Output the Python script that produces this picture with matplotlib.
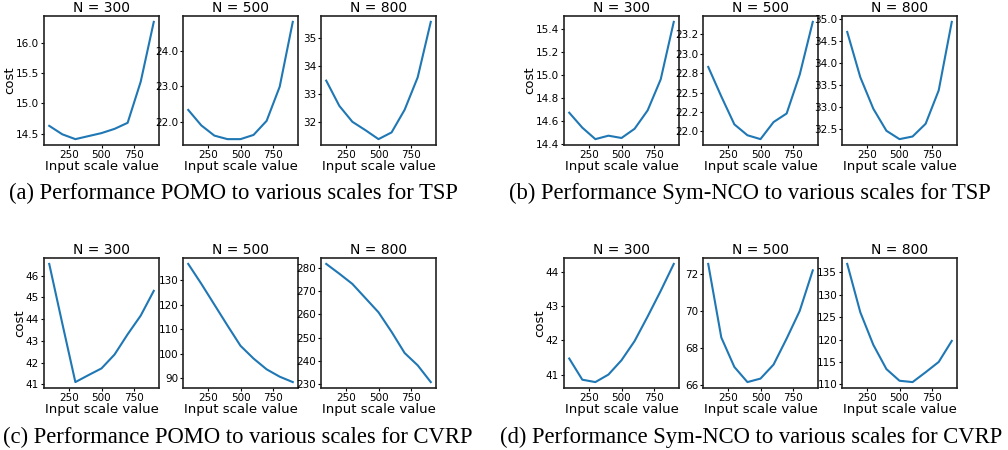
import matplotlib
matplotlib.use("Agg")
import matplotlib.pyplot as plt
from matplotlib.ticker import FormatStrFormatter

# input scale values (x axis, shared by every panel)
scales = [100, 200, 300, 400, 500, 600, 700, 800, 900]
sizes = [300, 500, 800]

# (a) POMO, TSP
pomo_tsp = [
    [14.63, 14.49, 14.41, 14.46, 14.51, 14.58, 14.68, 15.36, 16.35],
    [22.33, 21.89, 21.60, 21.50, 21.50, 21.62, 22.02, 22.99, 24.83],
    [33.47, 32.57, 32.00, 31.70, 31.38, 31.62, 32.43, 33.59, 35.57],
]
# (b) Sym-NCO, TSP
sym_tsp = [
    [14.67, 14.54, 14.44, 14.47, 14.45, 14.53, 14.69, 14.96, 15.46],
    [22.83, 22.45, 22.09, 21.95, 21.90, 22.12, 22.23, 22.73, 23.41],
    [34.71, 33.68, 32.96, 32.46, 32.27, 32.33, 32.62, 33.38, 34.94],
]
# (c) POMO, CVRP
pomo_cvrp = [
    [46.54, 43.80, 41.10, 41.42, 41.73, 42.37, 43.30, 44.16, 45.30],
    [136.6, 128.5, 120.0, 111.5, 103.2, 98.0, 93.6, 90.6, 88.4],
    [281.7, 277.5, 273.1, 267.0, 260.9, 252.5, 243.4, 238.1, 230.9],
]
# (d) Sym-NCO, CVRP
sym_cvrp = [
    [41.47, 40.85, 40.78, 41.00, 41.42, 41.98, 42.70, 43.45, 44.24],
    [72.55, 68.56, 66.96, 66.14, 66.33, 67.09, 68.50, 70.00, 72.20],
    [136.9, 126.1, 118.8, 113.4, 110.8, 110.5, 112.7, 115.0, 119.7],
]

x_ticks = [250, 500, 750]
yticks = {
    "a": [[14.5, 15.0, 15.5, 16.0], [22, 23, 24], [32, 33, 34, 35]],
    "b": [[14.4, 14.6, 14.8, 15.0, 15.2, 15.4],
          [22.0, 22.25, 22.5, 22.75, 23.0, 23.25],
          [32.5, 33.0, 33.5, 34.0, 34.5, 35.0]],
    "c": [[41, 42, 43, 44, 45, 46], [90, 100, 110, 120, 130],
          [230, 240, 250, 260, 270, 280]],
    "d": [[41, 42, 43, 44], [66, 68, 70, 72], [110, 115, 120, 125, 130, 135]],
}
ytick_fmt = {"a": [None, "%.1f", None], "b": [None, "%.1f", None],
             "c": [None, None, None], "d": [None, None, None]}

captions = {
    "a": "(a) Performance POMO to various scales for TSP",
    "b": "(b) Performance Sym-NCO to various scales for TSP",
    "c": "(c) Performance POMO to various scales for CVRP",
    "d": "(d) Performance Sym-NCO to various scales for CVRP",
}
data = {"a": pomo_tsp, "b": sym_tsp, "c": pomo_cvrp, "d": sym_cvrp}

W, H = 1008, 450
fig = plt.figure(figsize=(W / 100, H / 100), dpi=100)

# pixel layout of each group: left edges of the 3 axes, top/bottom of row, caption pos
groups = {
    "a": ([44, 183, 321], 16, 145, 233, 193),
    "b": ([564, 703, 842], 16, 145, 750, 193),
    "c": ([44, 183, 321], 258, 388, 238, 437),
    "d": ([564, 703, 842], 258, 388, 751, 437),
}
ax_w = 115

for key, (lefts, top, bottom, cap_x, cap_y) in groups.items():
    for i, left in enumerate(lefts):
        ax = fig.add_axes([left / W, (H - bottom) / H, ax_w / W, (bottom - top) / H])
        ax.plot(scales, data[key][i], color="#1f77b4", linewidth=1.5)
        ax.set_title(f"N = {sizes[i]}", fontsize=10, pad=3)
        ax.set_xticks(x_ticks)
        ax.set_yticks(yticks[key][i])
        if ytick_fmt[key][i]:
            ax.yaxis.set_major_formatter(FormatStrFormatter(ytick_fmt[key][i]))
        ax.tick_params(labelsize=7.5, length=2.5, pad=1)
        ax.set_xlabel("Input scale value", fontsize=9.5, labelpad=0)
        if i == 0:
            ax.set_ylabel("cost", fontsize=9.5, labelpad=0)
        for s in ax.spines.values():
            s.set_linewidth(1.2)
            s.set_color("#222222")
    fig.text(cap_x / W, 1 - cap_y / H, captions[key], ha="center", va="center",
             fontsize=16.3, family="Liberation Serif")

fig.savefig("out.png", dpi=100)
